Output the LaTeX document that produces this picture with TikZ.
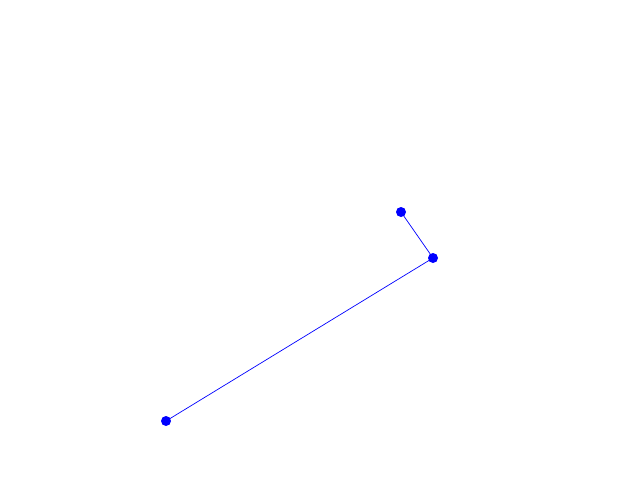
\documentclass[tikz,border=0pt]{standalone}
\begin{document}
\begin{tikzpicture}[x=1pt,y=-1pt,
  dot/.style={circle,fill=blue,inner sep=0pt,minimum size=10pt},
  link/.style={draw=blue,line width=0.7pt}]
\useasboundingbox (0,0) rectangle (640,480);
\node[dot] (a) at (166,421) {};
\node[dot] (b) at (433,258) {};
\node[dot] (c) at (401,212) {};
\draw[link] (a.center) -- (b.center) -- (c.center);
\end{tikzpicture}
\end{document}
